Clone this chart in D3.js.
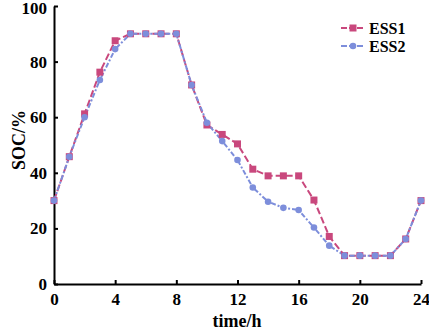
<!DOCTYPE html>
<html lang="en">
<head>
    <meta charset="UTF-8">
    <title>SOC of ESS1 and ESS2</title>
    <script src="https://d3js.org/d3.v7.min.js"></script>
    <style>
        body { margin: 0; background: #fff; }
        svg text { font-family: 'Liberation Serif', 'Times New Roman', serif; font-weight: bold; fill: #000; }
    </style>
</head>
<body>
    <svg id="chart" width="429" height="330"></svg>
    <script>
        // hours 0..24
        const hours = d3.range(0, 25);
        const ess1 = [30, 45.8, 61.2, 76.2, 87.5, 90, 90, 90, 90, 71.6, 57.2, 53.8, 50.4, 41.3, 38.9, 38.9, 38.9, 30.2, 17.1, 10.2, 10.2, 10.2, 10.2, 16.2, 30];
        const ess2 = [30, 45.8, 60.0, 73.4, 84.5, 90, 90, 90, 90, 71.6, 58.0, 51.4, 44.6, 34.7, 29.6, 27.4, 26.6, 20.3, 13.8, 10.2, 10.2, 10.2, 10.2, 16.2, 30];
        const xTicks = [0, 4, 8, 12, 16, 20, 24];
        const yTicks = [0, 20, 40, 60, 80, 100];

        const svg = d3.select('#chart');
        const x = d3.scaleLinear().domain([0, 24]).range([54, 421]);
        const y = d3.scaleLinear().domain([0, 100]).range([284, 6]);

        const c1 = '#c9487d';
        const c2 = '#7d8edb';
        const serif = "'Liberation Serif', 'Times New Roman', serif";

        // axes
        const xAxis = svg.append('g')
            .attr('transform', `translate(0,${y(0)})`)
            .call(d3.axisBottom(x).tickValues(xTicks).tickSizeInner(-4).tickSizeOuter(0).tickPadding(9));
        const yAxis = svg.append('g')
            .attr('transform', `translate(${x(0)},0)`)
            .call(d3.axisLeft(y).tickValues(yTicks).tickSizeInner(-4).tickSizeOuter(0).tickPadding(7));
        [xAxis, yAxis].forEach(g => {
            g.attr('font-family', serif).attr('font-size', 17).attr('font-weight', 'bold');
            g.select('.domain').attr('stroke', '#000').attr('stroke-width', 2);
            g.selectAll('.tick line').attr('stroke', '#000').attr('stroke-width', 2);
            g.selectAll('.tick text').attr('fill', '#000');
        });
        // keep the top label inside the frame
        yAxis.selectAll('.tick text').filter(d => d === 100).attr('dy', '0.42em');

        svg.append('text')
            .attr('x', 237).attr('y', 327)
            .attr('text-anchor', 'middle')
            .attr('font-size', 18)
            .text('time/h');
        svg.append('text')
            .attr('transform', 'translate(25,140) rotate(-90)')
            .attr('text-anchor', 'middle')
            .attr('font-size', 18)
            .text('SOC/%');

        const line = d3.line().x((d, i) => x(hours[i])).y(d => y(d));

        svg.append('path')
            .attr('d', line(ess1))
            .attr('fill', 'none')
            .attr('stroke', c1)
            .attr('stroke-width', 2)
            .attr('stroke-dasharray', '7,3');
        svg.append('path')
            .attr('d', line(ess2))
            .attr('fill', 'none')
            .attr('stroke', c2)
            .attr('stroke-width', 2)
            .attr('stroke-dasharray', '5,2,2,2');

        svg.append('g').selectAll('rect')
            .data(ess1)
            .join('rect')
            .attr('x', (d, i) => x(hours[i]) - 3.5)
            .attr('y', d => y(d) - 3.5)
            .attr('width', 7).attr('height', 7)
            .attr('fill', c1);
        svg.append('g').selectAll('circle')
            .data(ess2)
            .join('circle')
            .attr('cx', (d, i) => x(hours[i]))
            .attr('cy', d => y(d))
            .attr('r', 3.3)
            .attr('fill', c2);

        // legend
        const legend = [
            { name: 'ESS1', color: c1, shape: 'rect' },
            { name: 'ESS2', color: c2, shape: 'circle' }
        ];
        const lg = svg.append('g').selectAll('g')
            .data(legend)
            .join('g')
            .attr('transform', (d, i) => `translate(0,${28 + i * 18})`);
        lg.append('line')
            .attr('x1', 341).attr('x2', 365)
            .attr('stroke', d => d.color)
            .attr('stroke-width', 2)
            .attr('stroke-dasharray', '6,2');
        lg.filter(d => d.shape === 'rect').append('rect')
            .attr('x', 349.5).attr('y', -3.5).attr('width', 7).attr('height', 7)
            .attr('fill', d => d.color);
        lg.filter(d => d.shape === 'circle').append('circle')
            .attr('cx', 353).attr('r', 3.3)
            .attr('fill', d => d.color);
        lg.append('text')
            .attr('x', 369).attr('y', 6)
            .attr('font-size', 16)
            .text(d => d.name);
    </script>
</body>
</html>
